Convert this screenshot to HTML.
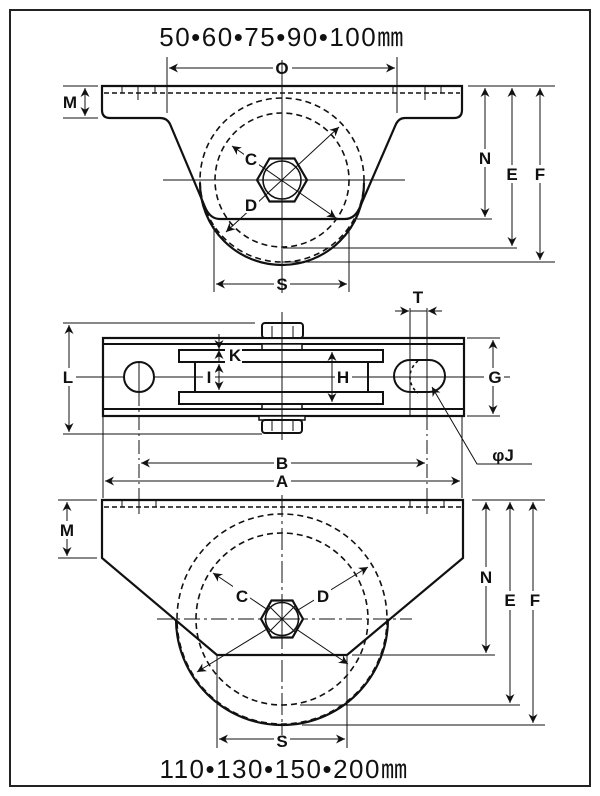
<!DOCTYPE html>
<html><head><meta charset="utf-8"><style>
html,body{margin:0;padding:0;background:#fff}
svg{display:block}
text{font-family:"Liberation Sans",Arial,sans-serif;font-weight:bold;fill:#111}
</style></head><body>
<svg width="600" height="796" viewBox="0 0 600 796" xmlns="http://www.w3.org/2000/svg">
<defs>
<marker id="a" viewBox="0 0 10 10" refX="10" refY="5" markerWidth="9" markerHeight="9" orient="auto-start-reverse" markerUnits="userSpaceOnUse"><path d="M0,0 L10,5 L0,10 L3,5 Z" fill="#111"/></marker>
</defs>
<rect x="10" y="10" width="580" height="776" fill="none" stroke="#222" stroke-width="2"/>

<g stroke="#111" fill="none">
<!-- ===== TOP VIEW ===== -->
<text x="282" y="46" font-size="26" letter-spacing="1.5" text-anchor="middle" stroke="none" style="font-weight:normal">50•60•75•90•100㎜</text>
<circle cx="282" cy="180" r="82" stroke-width="1.6" stroke-dasharray="6,4"/>
<circle cx="282" cy="180" r="67" stroke-width="1.6" stroke-dasharray="6,4"/>
<path d="M102,86 H462 V110 Q462,118 454,118 H405 Q399,118 396,124 L360,207 Q355,219 345,219 H220 Q210,219 205,207 L170,124 Q167,118 160,118 H110 Q102,118 102,110 Z" stroke-width="2.2"/>
<path d="M200,183 A82 82 0 0 0 364,183" stroke-width="2.2"/>
<line x1="104" y1="93" x2="460" y2="93" stroke-width="1.5" stroke-dasharray="5,3"/>
<g stroke-width="1">
<line x1="122" y1="86" x2="122" y2="93"/><line x1="138" y1="86" x2="138" y2="100"/><line x1="155" y1="86" x2="155" y2="93"/>
<line x1="393" y1="86" x2="393" y2="93"/><line x1="425" y1="86" x2="425" y2="100"/><line x1="441" y1="86" x2="441" y2="93"/>
</g>
<polygon points="257,180 269.5,158.5 294.5,158.5 307,180 294.5,201.5 269.5,201.5" fill="#fff" stroke-width="2.2"/>
<circle cx="282" cy="180" r="19" stroke-width="1.6"/>
<line x1="163" y1="180" x2="405" y2="180" stroke-width="1"/>
<line x1="282" y1="60" x2="282" y2="293" stroke-width="1"/>
<line x1="232" y1="146" x2="336" y2="218" stroke-width="1" marker-start="url(#a)" marker-end="url(#a)"/>
<line x1="226" y1="232" x2="339" y2="127" stroke-width="1" marker-start="url(#a)" marker-end="url(#a)"/>
<rect x="244" y="150" width="15" height="17" fill="#fff" stroke="none"/>
<rect x="244" y="196" width="15" height="17" fill="#fff" stroke="none"/>
<line x1="167" y1="57" x2="167" y2="113" stroke-width="1"/>
<line x1="397" y1="57" x2="397" y2="113" stroke-width="1"/>
<line x1="169" y1="68" x2="273" y2="68" stroke-width="1" marker-start="url(#a)"/>
<line x1="292" y1="68" x2="395" y2="68" stroke-width="1" marker-end="url(#a)"/>
<line x1="63" y1="86" x2="98" y2="86" stroke-width="1"/>
<line x1="63" y1="118" x2="98" y2="118" stroke-width="1"/>
<line x1="85" y1="88" x2="85" y2="116" stroke-width="1" marker-start="url(#a)" marker-end="url(#a)"/>
<line x1="468" y1="86" x2="555" y2="86" stroke-width="1"/>
<line x1="357" y1="219" x2="492" y2="219" stroke-width="1"/>
<line x1="283" y1="248" x2="517" y2="248" stroke-width="1"/>
<line x1="282" y1="262" x2="555" y2="262" stroke-width="1"/>
<line x1="485" y1="88" x2="485" y2="217" stroke-width="1" marker-start="url(#a)" marker-end="url(#a)"/>
<line x1="512" y1="88" x2="512" y2="246" stroke-width="1" marker-start="url(#a)" marker-end="url(#a)"/>
<line x1="540" y1="88" x2="540" y2="260" stroke-width="1" marker-start="url(#a)" marker-end="url(#a)"/>
<rect x="477" y="149" width="16" height="18" fill="#fff" stroke="none"/>
<rect x="504" y="165" width="16" height="18" fill="#fff" stroke="none"/>
<rect x="532" y="165" width="16" height="18" fill="#fff" stroke="none"/>
<line x1="214" y1="226" x2="214" y2="292" stroke-width="1"/>
<line x1="349" y1="226" x2="349" y2="292" stroke-width="1"/>
<line x1="216" y1="284" x2="274" y2="284" stroke-width="1" marker-start="url(#a)"/>
<line x1="290" y1="284" x2="347" y2="284" stroke-width="1" marker-end="url(#a)"/>

<!-- ===== MIDDLE VIEW ===== -->
<line x1="75" y1="377" x2="510" y2="377" stroke-width="1"/>
<rect x="103" y="338" width="361" height="78" fill="none" stroke-width="2.2"/>
<line x1="103" y1="344" x2="464" y2="344" stroke-width="2"/>
<line x1="103" y1="409" x2="464" y2="409" stroke-width="2"/>
<rect x="262" y="323" width="41" height="15" rx="3" fill="#fff" stroke-width="2"/>
<line x1="272" y1="326" x2="272" y2="338" stroke-width="1"/><line x1="293" y1="326" x2="293" y2="338" stroke-width="1"/>
<rect x="262" y="344" width="40" height="6" fill="#fff" stroke-width="1.5"/>
<rect x="262" y="404" width="40" height="5" fill="#fff" stroke-width="1.5"/>
<rect x="259" y="416" width="46" height="4" fill="#fff" stroke-width="1.5"/>
<rect x="262" y="420" width="40" height="13" rx="3" fill="#fff" stroke-width="2"/>
<line x1="272" y1="420" x2="272" y2="431" stroke-width="1"/><line x1="293" y1="420" x2="293" y2="431" stroke-width="1"/>
<rect x="179" y="350" width="204" height="12" fill="#fff" stroke-width="2"/>
<rect x="179" y="392" width="204" height="12" fill="#fff" stroke-width="2"/>
<line x1="195" y1="362" x2="195" y2="392" stroke-width="2"/>
<line x1="368" y1="362" x2="368" y2="392" stroke-width="2"/>
<line x1="282" y1="312" x2="282" y2="440" stroke-width="1"/>
<circle cx="139" cy="377" r="15" fill="#fff" stroke-width="2"/>
<line x1="139" y1="362" x2="139" y2="392" stroke-width="1"/>
<path d="M410,360 H429 A16 16 0 0 1 429,392 H410 A16 16 0 0 1 410,360 Z" fill="#fff" stroke-width="2"/>
<path d="M418,361 A20 20 0 0 0 418,393" stroke-width="1.6" stroke-dasharray="3,3"/>
<line x1="394" y1="377" x2="445" y2="377" stroke-width="1"/>
<line x1="410" y1="308" x2="410" y2="416" stroke-width="1"/>
<line x1="427" y1="308" x2="427" y2="416" stroke-width="1"/>
<line x1="395" y1="311" x2="409" y2="311" stroke-width="1" marker-end="url(#a)"/>
<line x1="442" y1="311" x2="428" y2="311" stroke-width="1" marker-end="url(#a)"/>
<line x1="410" y1="311" x2="427" y2="311" stroke-width="1"/>
<polyline points="532,464 477,464 432,387" stroke-width="1" marker-end="url(#a)"/>
<line x1="63" y1="323" x2="255" y2="323" stroke-width="1"/>
<line x1="63" y1="434" x2="262" y2="434" stroke-width="1"/>
<line x1="69" y1="325" x2="69" y2="432" stroke-width="1" marker-start="url(#a)" marker-end="url(#a)"/>
<rect x="60" y="368" width="16" height="18" fill="#fff" stroke="none"/>
<line x1="467" y1="338" x2="500" y2="338" stroke-width="1"/>
<line x1="467" y1="416" x2="500" y2="416" stroke-width="1"/>
<line x1="493" y1="340" x2="493" y2="414" stroke-width="1" marker-start="url(#a)" marker-end="url(#a)"/>
<rect x="484" y="368" width="20" height="18" fill="#fff" stroke="none"/>
<line x1="219" y1="334" x2="219" y2="349" stroke-width="1" marker-end="url(#a)"/>
<line x1="219" y1="350" x2="219" y2="361" stroke-width="1" marker-start="url(#a)"/>
<line x1="219" y1="364" x2="219" y2="390" stroke-width="1" marker-start="url(#a)" marker-end="url(#a)"/>
<rect x="225" y="346" width="17" height="18" fill="#fff" stroke="none"/>
<rect x="203" y="369" width="12" height="17" fill="#fff" stroke="none"/>
<line x1="332" y1="352" x2="332" y2="402" stroke-width="1" marker-start="url(#a)" marker-end="url(#a)"/>
<rect x="335" y="368" width="17" height="18" fill="#fff" stroke="none"/>
<line x1="139" y1="392" x2="139" y2="502" stroke-width="1" stroke-dasharray="14,4,2,4"/>
<line x1="427" y1="416" x2="427" y2="502" stroke-width="1" stroke-dasharray="14,4,2,4"/>
<line x1="103" y1="416" x2="103" y2="498" stroke-width="1"/>
<line x1="462" y1="416" x2="462" y2="498" stroke-width="1"/>
<line x1="141" y1="463" x2="274" y2="463" stroke-width="1" marker-start="url(#a)"/>
<line x1="291" y1="463" x2="425" y2="463" stroke-width="1" marker-end="url(#a)"/>
<line x1="105" y1="481" x2="274" y2="481" stroke-width="1" marker-start="url(#a)"/>
<line x1="291" y1="481" x2="460" y2="481" stroke-width="1" marker-end="url(#a)"/>

<!-- ===== BOTTOM VIEW ===== -->
<circle cx="282" cy="619" r="105" stroke-width="1.6" stroke-dasharray="6,4"/>
<circle cx="282" cy="619" r="86" stroke-width="1.6" stroke-dasharray="6,4"/>
<path d="M102,500 H463 V558 L347,655 H217 L102,558 Z" stroke-width="2.2"/>
<path d="M176,619 A106 106 0 0 0 388,619" stroke-width="2.2"/>
<line x1="104" y1="507" x2="461" y2="507" stroke-width="1.5" stroke-dasharray="5,3"/>
<g stroke-width="1">
<line x1="122" y1="500" x2="122" y2="507"/><line x1="139" y1="493" x2="139" y2="514"/><line x1="156" y1="500" x2="156" y2="507"/>
<line x1="410" y1="500" x2="410" y2="507"/><line x1="427" y1="493" x2="427" y2="514"/><line x1="444" y1="500" x2="444" y2="507"/>
</g>
<line x1="157" y1="619" x2="412" y2="619" stroke-width="1" stroke-dasharray="16,4,3,4"/>
<line x1="282" y1="495" x2="282" y2="735" stroke-width="1" stroke-dasharray="22,4,3,4"/>
<line x1="213" y1="573" x2="348" y2="664" stroke-width="1" marker-start="url(#a)" marker-end="url(#a)"/>
<line x1="197" y1="672" x2="368" y2="567" stroke-width="1" marker-start="url(#a)" marker-end="url(#a)"/>
<rect x="233" y="586" width="17" height="19" fill="#fff" stroke="none"/>
<rect x="314" y="586" width="17" height="19" fill="#fff" stroke="none"/>
<polygon points="261,619 271.5,600.5 292.5,600.5 303,619 292.5,637.5 271.5,637.5" fill="#fff" stroke-width="2.2"/>
<circle cx="282" cy="619" r="16.5" stroke-width="1.6"/>
<line x1="264" y1="619" x2="300" y2="619" stroke-width="1"/>
<line x1="282" y1="601" x2="282" y2="637" stroke-width="1"/>
<line x1="268" y1="605" x2="296" y2="633" stroke-width="1"/>
<line x1="268" y1="633" x2="296" y2="605" stroke-width="1"/>
<line x1="58" y1="500" x2="97" y2="500" stroke-width="1"/>
<line x1="58" y1="558" x2="97" y2="558" stroke-width="1"/>
<line x1="67" y1="502" x2="67" y2="556" stroke-width="1" marker-start="url(#a)" marker-end="url(#a)"/>
<rect x="58" y="521" width="18" height="18" fill="#fff" stroke="none"/>
<line x1="472" y1="500" x2="545" y2="500" stroke-width="1"/>
<line x1="352" y1="655" x2="495" y2="655" stroke-width="1"/>
<line x1="300" y1="705" x2="520" y2="705" stroke-width="1"/>
<line x1="302" y1="725" x2="545" y2="725" stroke-width="1"/>
<line x1="486" y1="502" x2="486" y2="653" stroke-width="1" marker-start="url(#a)" marker-end="url(#a)"/>
<line x1="510" y1="502" x2="510" y2="703" stroke-width="1" marker-start="url(#a)" marker-end="url(#a)"/>
<line x1="533" y1="502" x2="533" y2="723" stroke-width="1" marker-start="url(#a)" marker-end="url(#a)"/>
<rect x="477" y="567" width="17" height="19" fill="#fff" stroke="none"/>
<rect x="502" y="591" width="17" height="19" fill="#fff" stroke="none"/>
<rect x="526" y="591" width="17" height="19" fill="#fff" stroke="none"/>
<line x1="217" y1="655" x2="217" y2="748" stroke-width="1"/>
<line x1="347" y1="655" x2="347" y2="748" stroke-width="1"/>
<line x1="219" y1="739" x2="274" y2="739" stroke-width="1" marker-start="url(#a)"/>
<line x1="290" y1="739" x2="345" y2="739" stroke-width="1" marker-end="url(#a)"/>
</g>

<g font-size="17" text-anchor="middle" stroke="none">
<text x="282" y="74">O</text>
<text x="70" y="108">M</text>
<text x="251" y="165">C</text>
<text x="251" y="211">D</text>
<text x="485" y="164">N</text>
<text x="512" y="180">E</text>
<text x="540" y="180">F</text>
<text x="282" y="290">S</text>
<text x="418" y="303">T</text>
<text x="68" y="383">L</text>
<text x="495" y="383">G</text>
<text x="235" y="361">K</text>
<text x="209" y="383">I</text>
<text x="343" y="383">H</text>
<text x="503" y="461">φJ</text>
<text x="282" y="469">B</text>
<text x="282" y="487">A</text>
<text x="67" y="536">M</text>
<text x="242" y="602">C</text>
<text x="323" y="602">D</text>
<text x="486" y="583">N</text>
<text x="510" y="606">E</text>
<text x="535" y="606">F</text>
<text x="282" y="747">S</text>
</g>
<text x="284" y="778" font-size="26" letter-spacing="1.5" text-anchor="middle" style="font-weight:normal">110•130•150•200㎜</text>
</svg>
</body></html>
